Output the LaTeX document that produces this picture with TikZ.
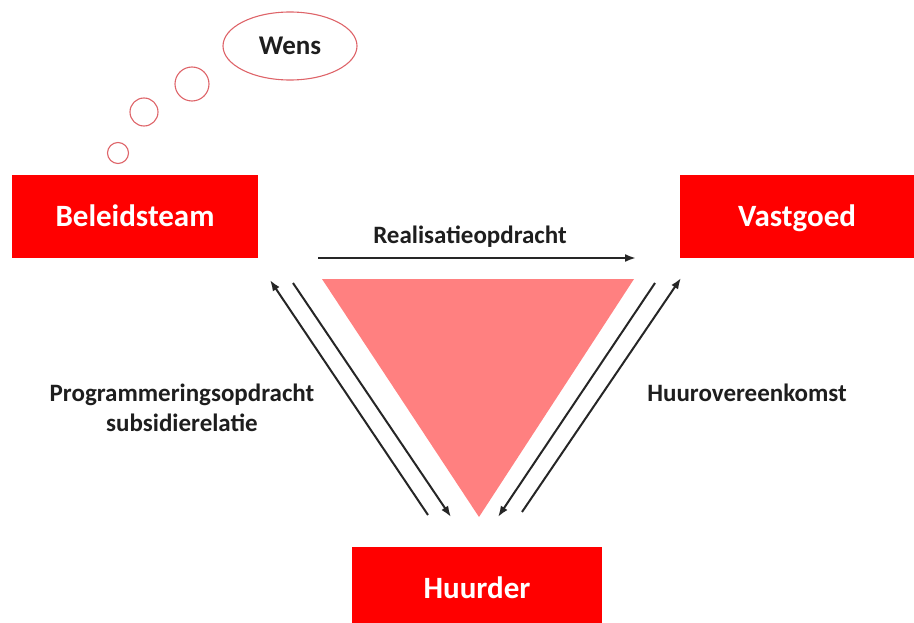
\documentclass[tikz,border=0pt]{standalone}
\usepackage{fontspec}
\setmainfont{Carlito}
\usetikzlibrary{arrows.meta,shapes.geometric}
\definecolor{boxred}{RGB}{255,0,0}
\definecolor{trired}{RGB}{255,128,128}
\definecolor{bubred}{RGB}{222,100,105}
\definecolor{lbltext}{RGB}{30,30,30}

\begin{document}
\begin{tikzpicture}[x=1pt,y=-1pt]
\tikzstyle{every node}=[inner sep=0pt, outer sep=0pt]
\tikzstyle{party}=[fill=boxred, text=white, font=\fontsize{31}{37}\selectfont\bfseries, minimum height=83pt, text height=20pt, text depth=0pt]
\tikzstyle{bubble}=[draw=bubred, line width=1.1pt, circle]
\tikzstyle{lbl}=[text=lbltext, font=\fontsize{25}{30}\selectfont\bfseries, align=center]
\tikzstyle{rel}=[-{Latex[length=11pt,width=8pt]}, line width=2pt, black!85]
\useasboundingbox (0,0) rectangle (914,623);
\fill[trired] (322,279) -- (634,279) -- (479,517) -- cycle;
\draw (135,216.5) node (beleid) [party, minimum width=246pt] {Beleidsteam};
\draw (797,216.5) node (vastgoed) [party, minimum width=234pt] {Vastgoed};
\draw (477,588.5) node (huurder) [party, minimum width=250pt] {Huurder};
\draw (290,46) node (wens) [draw=bubred, line width=1.1pt, ellipse, minimum width=134pt, minimum height=68pt, text=lbltext, font=\fontsize{27}{32}\selectfont\bfseries] {Wens};
\draw (192,84) node (b1) [bubble, minimum size=34pt] {};
\draw (144,112) node (b2) [bubble, minimum size=28pt] {};
\draw (118,153) node (b3) [bubble, minimum size=21pt] {};
\draw (470,237) node (realisatie) [lbl] {Realisatieopdracht};
\draw (182,408) node (programmering) [lbl] {Programmeringsopdracht\\subsidierelatie};
\draw (747,393) node (huurovk) [lbl] {Huurovereenkomst};
\coordinate (r1) at (318,258);
\coordinate (r2) at (636,258);
\coordinate (p1) at (428,515);
\coordinate (p2) at (270,280);
\coordinate (p3) at (293,283);
\coordinate (p4) at (451,517);
\coordinate (h1) at (655,283);
\coordinate (h2) at (498,517);
\coordinate (h3) at (522,512);
\coordinate (h4) at (681,278);
\draw[rel] (r1) -- (r2);
\draw[rel] (p1) -- (p2);
\draw[rel] (p3) -- (p4);
\draw[rel] (h1) -- (h2);
\draw[rel] (h3) -- (h4);
\end{tikzpicture}
\end{document}
